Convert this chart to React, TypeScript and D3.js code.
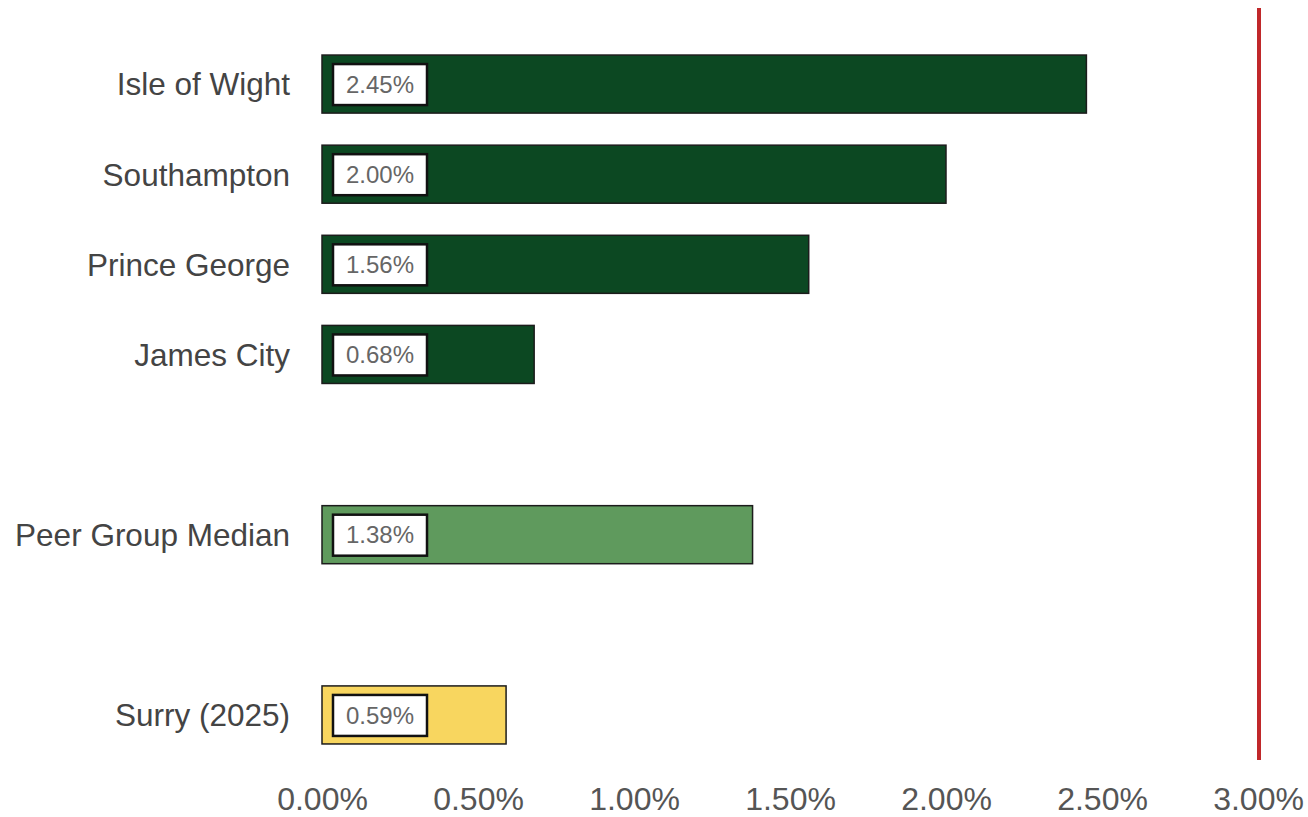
import * as d3 from 'd3';
import React, { useEffect, useRef } from 'react';

// slots on the y axis; the gap entries just leave an empty row
const slots = ['Isle of Wight', 'Southampton', 'Prince George', 'James City', 'gap1', 'Peer Group Median', 'gap2', 'Surry (2025)'];
const categories = ['Isle of Wight', 'Southampton', 'Prince George', 'James City', 'Peer Group Median', 'Surry (2025)'];
const values = [0.0245, 0.02, 0.0156, 0.0068, 0.0138, 0.0059];
const kinds = ['peer', 'peer', 'peer', 'peer', 'median', 'county'];
const xTicks = [0, 0.005, 0.01, 0.015, 0.02, 0.025, 0.03];
const target = 0.03;

const colors: Record<string, string> = {
  peer: '#0c4822',
  median: '#5f9a5d',
  county: '#f8d65f',
};

const width = 1308;
const height = 817;

const App = () => {
  const svgRef = useRef(null);

  useEffect(() => {
    const svg = d3.select(svgRef.current);
    svg.selectAll('*').remove();

    const x = d3.scaleLinear().domain([0, 0.03]).range([322, 1258]);
    const y = d3.scaleBand().domain(slots).range([39, 760]).paddingInner(0.356).paddingOuter(0.178);

    const rows = categories.map((c, i) => ({ name: c, value: values[i], kind: kinds[i] }));

    // category labels
    svg
      .append('g')
      .selectAll('text')
      .data(rows)
      .enter()
      .append('text')
      .attr('x', 290)
      .attr('y', (d) => y(d.name)! + y.bandwidth() / 2)
      .attr('dy', '0.36em')
      .attr('text-anchor', 'end')
      .style('font-family', '"Liberation Sans", Arial, sans-serif')
      .style('font-size', '31.5px')
      .style('fill', '#444444')
      .text((d) => d.name);

    // bars
    svg
      .append('g')
      .selectAll('rect')
      .data(rows)
      .enter()
      .append('rect')
      .attr('x', x(0))
      .attr('y', (d) => y(d.name)!)
      .attr('width', (d) => x(d.value) - x(0))
      .attr('height', y.bandwidth())
      .style('fill', (d) => colors[d.kind])
      .style('stroke', '#1c1c1c')
      .style('stroke-width', 1.5);

    // value boxes
    const lbl = svg.append('g').selectAll('g').data(rows).enter().append('g');
    lbl
      .append('rect')
      .attr('x', x(0) + 11)
      .attr('y', (d) => y(d.name)! + y.bandwidth() / 2 - 20)
      .attr('width', 94)
      .attr('height', 41)
      .style('fill', '#ffffff')
      .style('stroke', '#111111')
      .style('stroke-width', 2.5);
    lbl
      .append('text')
      .attr('x', x(0) + 58)
      .attr('y', (d) => y(d.name)! + y.bandwidth() / 2)
      .attr('dy', '0.36em')
      .attr('text-anchor', 'middle')
      .style('font-family', '"Liberation Sans", Arial, sans-serif')
      .style('font-size', '24px')
      .style('fill', '#666666')
      .text((d) => d3.format('.2%')(d.value));

    // target line
    svg
      .append('line')
      .attr('x1', x(target) + 1)
      .attr('x2', x(target) + 1)
      .attr('y1', 8)
      .attr('y2', 760)
      .style('stroke', '#c0282a')
      .style('stroke-width', 4);

    // x axis labels, no domain line or ticks
    const axis = svg
      .append('g')
      .attr('transform', 'translate(0,787)')
      .call(d3.axisBottom(x).tickValues(xTicks).tickFormat(d3.format('.2%')).tickSize(0).tickPadding(0));
    axis.select('.domain').remove();
    axis
      .selectAll('text')
      .attr('dy', '0.71em')
      .style('font-family', '"Liberation Sans", Arial, sans-serif')
      .style('font-size', '32px')
      .style('fill', '#555555');
  }, []);

  return (
    <>
      <style>{'body{margin:0;background:#fff}'}</style>
      <svg ref={svgRef} width={width} height={height} style={{ display: 'block' }} />
    </>
  );
};

export default App;
